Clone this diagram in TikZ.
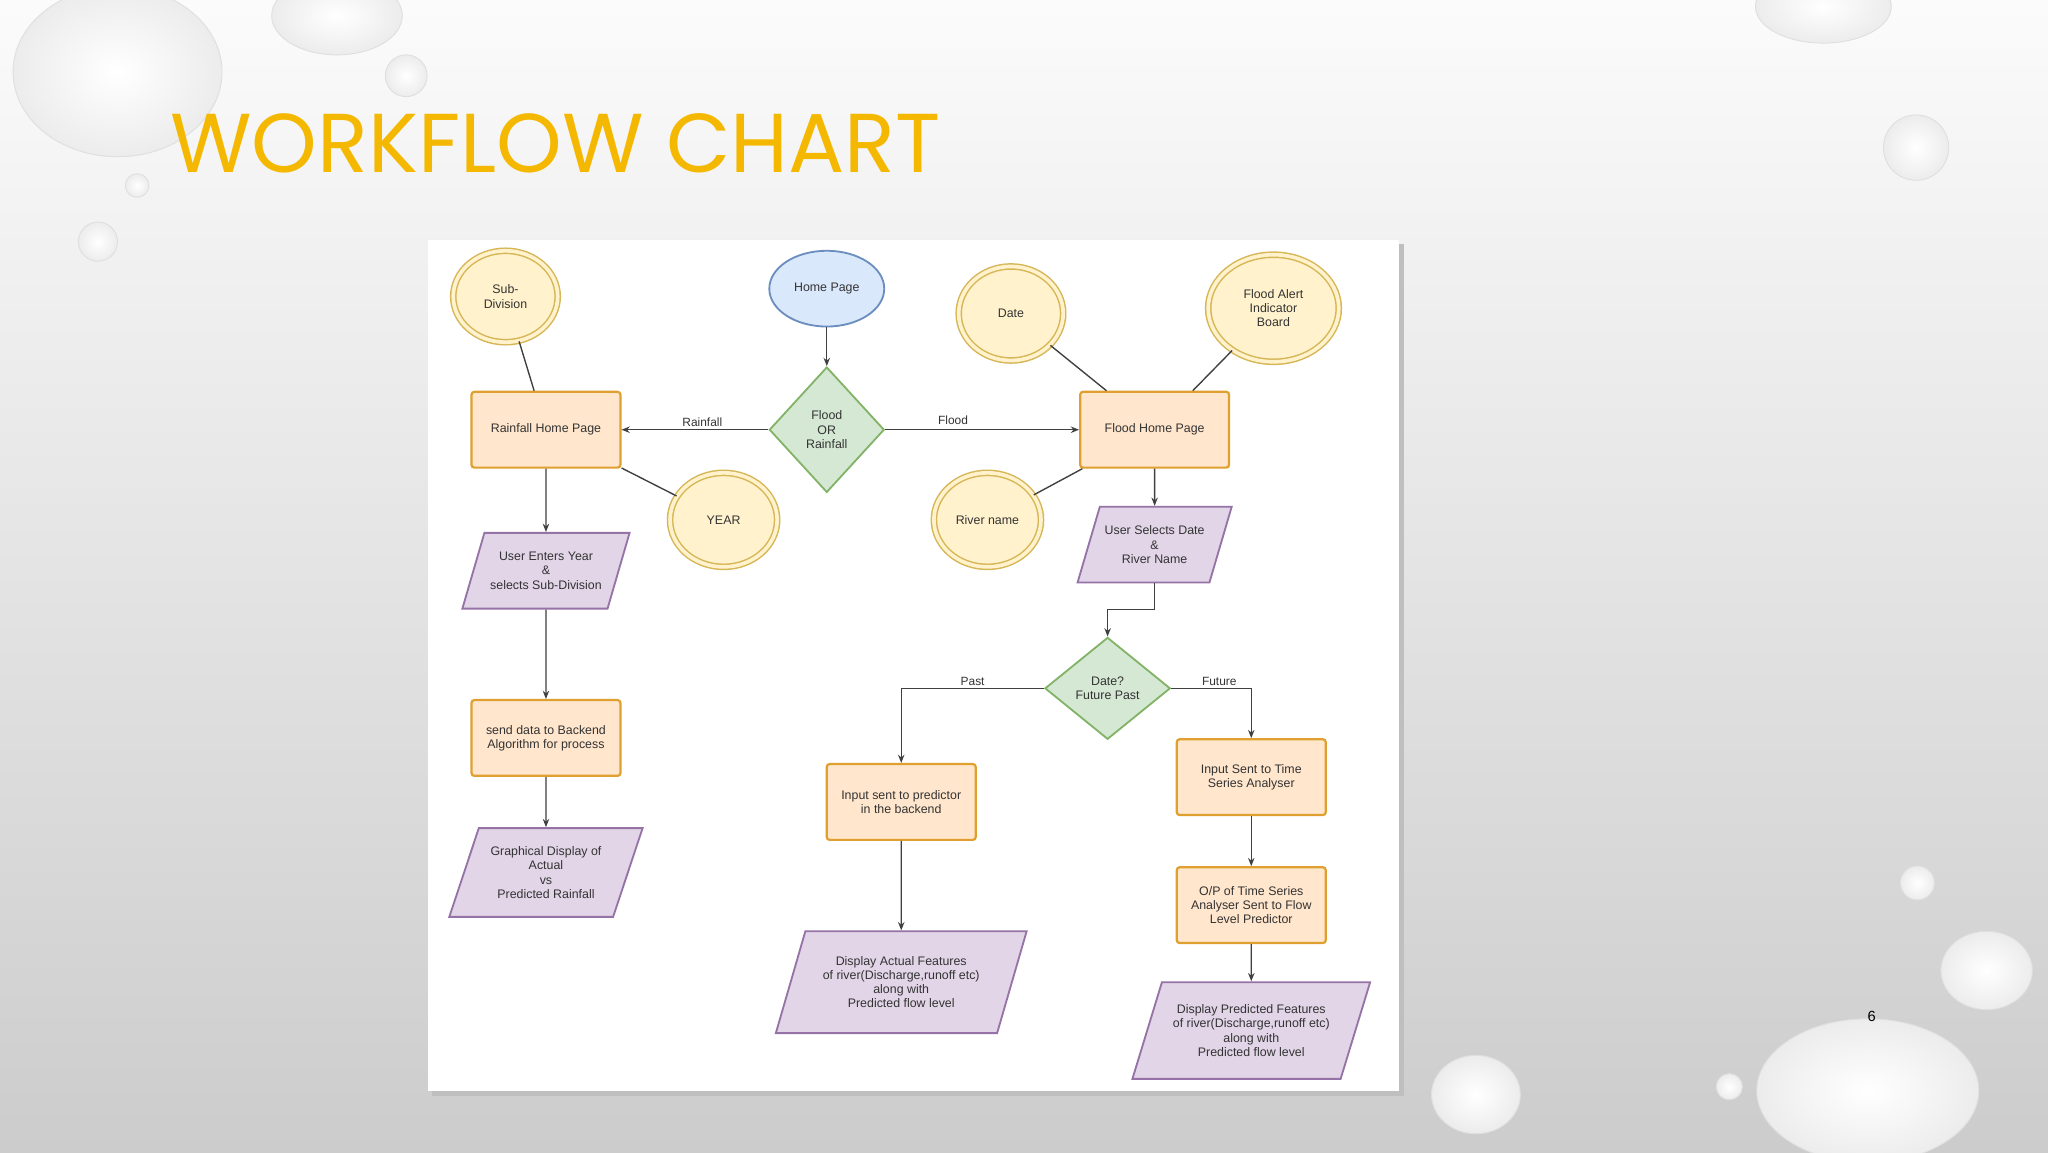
\documentclass[tikz,border=0pt]{standalone}
\usepackage{fontspec}
\setmainfont{Liberation Sans}
\newfontfamily\titlefont{Poppins}
\usetikzlibrary{shapes.geometric,arrows.meta}
\definecolor{ylf}{HTML}{FFF2CC}\definecolor{yld}{HTML}{D6B656}
\definecolor{blf}{HTML}{DAE8FC}\definecolor{bld}{HTML}{6C8EBF}
\definecolor{orf}{HTML}{FFE6CC}\definecolor{ord}{HTML}{E0A030}
\definecolor{grf}{HTML}{D5E8D4}\definecolor{grd}{HTML}{82B366}
\definecolor{puf}{HTML}{E1D5E7}\definecolor{pud}{HTML}{9673A6}
\definecolor{ttl}{HTML}{F5B800}
\tikzset{
 x=0.05cm,y=-0.05cm,
 every node/.style={font=\fontsize{13.5}{15.5}\selectfont, text=black!80, align=center},
 ring/.style={ellipse, draw=yld, fill=ylf, line width=1.6pt, double=ylf, double distance=4pt, inner sep=0pt},
 hp/.style={ellipse, draw=bld, fill=blf, line width=2pt, minimum width=88*0.05cm, minimum height=58*0.05cm},
 rbox/.style={rectangle, rounded corners=3pt, draw=ord, fill=orf, line width=2.4pt, minimum width=114*0.05cm, minimum height=58*0.05cm},
 dec/.style={diamond, draw=grd, fill=grf, line width=2pt, inner sep=0pt},
 para/.style={trapezium, trapezium left angle=63, trapezium right angle=117, trapezium stretches body, draw=pud, fill=puf, line width=2pt},
 con/.style={draw=black!75, line width=1.5pt},
 arr/.style={con, -{Stealth[length=9pt,width=7pt]}},
 lbl/.style={font=\fontsize{13}{15}\selectfont, fill=white, inner sep=1pt},
 drop/.style={draw=white!75!gray, line width=1pt, inner color=white, outer color=white!85!gray}
}
\begin{document}
\begin{tikzpicture}
\useasboundingbox (0,0) rectangle (1568,882);
\shade[top color=white!97!gray, bottom color=white!60!gray] (0,0) rectangle (1568,882);
% droplets
\shade[drop] (90,55) ellipse (80 and 65);
\shade[drop] (258,12) ellipse (50 and 30);
\shade[drop] (311,58) circle (16);
\shade[drop] (105,142) circle (9);
\shade[drop] (75,185) circle (15);
\shade[drop] (1396,5) ellipse (52 and 28);
\shade[drop] (1467,113) circle (25);
\shade[drop] (1468,676) circle (13);
\shade[drop] (1521,743) ellipse (35 and 30);
\shade[drop] (1430,835) ellipse (85 and 55);
\shade[drop] (1130,838) ellipse (34 and 30);
\shade[drop] (1324,832) circle (10);
\node[font=\titlefont\fontsize{91}{91}\selectfont, text=ttl, anchor=west] (title) at (128,110) {WORKFLOW CHART};
\node[font=\fontsize{16}{18}\selectfont, text=black] (pg) at (1433,778) {6};
% panel
\fill[black!25] (331,187) rectangle (1075,839);
\fill[white] (328,184) rectangle (1071,835);
% nodes
\node[ring, minimum width=80*0.05cm, minimum height=70*0.05cm] (sub) at (387,227) {Sub-\\Division};
\node[hp] (home) at (633,221) {Home Page};
\node[ring, minimum width=80*0.05cm, minimum height=72*0.05cm] (date) at (774,240) {Date};
\node[ring, minimum width=100*0.05cm, minimum height=82*0.05cm] (alert) at (975,236) {Flood Alert\\Indicator\\Board};
\node[rbox] (rhp) at (418,329) {Rainfall Home Page};
\node[dec, minimum width=88*0.05cm, minimum height=96*0.05cm] (fr) at (633,329) {Flood\\OR\\Rainfall};
\node[rbox] (fhp) at (884,329) {Flood Home Page};
\node[ring, minimum width=82*0.05cm, minimum height=72*0.05cm] (year) at (554,398) {YEAR};
\node[ring, minimum width=82*0.05cm, minimum height=72*0.05cm] (river) at (756,398) {River name};
\node[para, minimum width=118*0.05cm, minimum height=58*0.05cm] (usd) at (884,417) {User Selects Date\\\&\\River Name};
\node[para, minimum width=128*0.05cm, minimum height=58*0.05cm] (uey) at (418,437) {User Enters Year\\\&\\selects Sub-Division};
\node[dec, minimum width=96*0.05cm, minimum height=78*0.05cm] (dq) at (848,527) {Date?\\Future Past};
\node[rbox] (send) at (418,565) {send data to Backend\\Algorithm for process};
\node[rbox] (pred) at (690,614) {Input sent to predictor\\in the backend};
\node[rbox] (tsa) at (958,595) {Input Sent to Time\\Series Analyser};
\node[para, minimum width=148*0.05cm, minimum height=68*0.05cm] (graph) at (418,668) {Graphical Display of\\Actual\\vs\\Predicted Rainfall};
\node[rbox] (op) at (958,693) {O/P of Time Series\\Analyser Sent to Flow\\Level Predictor};
\node[para, minimum width=192*0.05cm, minimum height=78*0.05cm] (dact) at (690,752) {Display Actual Features\\of river(Discharge,runoff etc)\\along with\\Predicted flow level};
\node[para, minimum width=182*0.05cm, minimum height=74*0.05cm] (dprd) at (958,789) {Display Predicted Features\\of river(Discharge,runoff etc)\\along with\\Predicted flow level};
% connectors
\draw[arr] (home) -- (fr);
\draw[arr] (fr) -- node[lbl, above=2pt, pos=0.45] {Rainfall} (rhp);
\draw[arr] (fr) -- node[lbl, above=4pt, pos=0.35] {Flood} (fhp);
\draw[con] (sub) -- (rhp);
\draw[con] (year) -- (rhp);
\draw[con] (date) -- (fhp);
\draw[con] (alert) -- (fhp);
\draw[con] (river) -- (fhp);
\draw[arr] (rhp) -- (uey);
\draw[arr] (uey) -- (send);
\draw[arr] (send) -- (graph);
\draw[arr] (fhp) -- (usd);
\draw[arr] (usd.south) -- ++(0,20) -| (dq.north);
\draw[arr] (dq.west) -| node[lbl, pos=0.25, above=1pt] {Past} (pred.north);
\draw[arr] (dq.east) -| node[lbl, pos=0.3, above=1pt] {Future} (tsa.north);
\draw[arr] (pred) -- (dact);
\draw[arr] (tsa) -- (op);
\draw[arr] (op) -- (dprd);
\end{tikzpicture}
\end{document}
